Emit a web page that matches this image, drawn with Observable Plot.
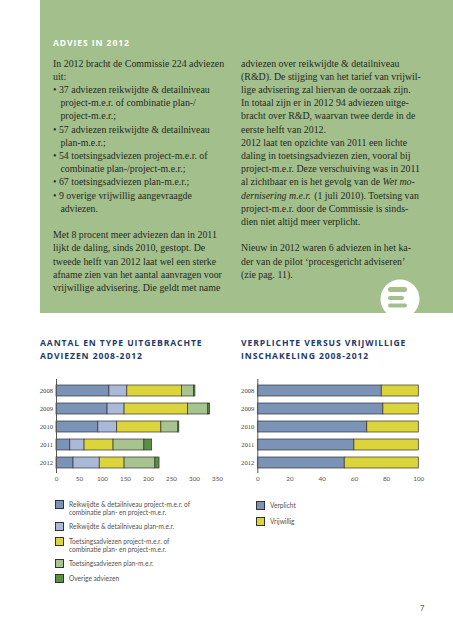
<!DOCTYPE html>
<html><head><meta charset="utf-8">
<script src="https://cdn.jsdelivr.net/npm/d3@7"></script>
<script src="https://cdn.jsdelivr.net/npm/@observablehq/plot@0.6"></script>
<style>
html,body{margin:0;padding:0;background:#fff;}
#page{position:relative;width:453px;height:640px;overflow:hidden;background:#fff;}
#panel{position:absolute;left:40px;top:0;width:413px;height:313px;background:#a3bf8c;}
.head{position:absolute;font-family:"Open Sans",sans-serif;font-weight:700;letter-spacing:0.9px;font-size:8.6px;line-height:13px;white-space:nowrap;}
.body{position:absolute;font-family:"Liberation Serif",serif;font-size:9.9px;line-height:13.2px;color:#252a22;}
.line{position:absolute;left:0;display:flex;white-space:pre;height:13.2px;}
.line span{display:inline-block;}
.chart{position:absolute;}
.legend{position:absolute;display:flex;flex-direction:column;font-family:Lato,sans-serif;font-size:6.6px;line-height:8.4px;color:#505050;}
.item{display:flex;align-items:flex-start;}
.sw{width:7px;height:7px;border:1px solid #333;margin-right:5px;margin-top:0px;flex:none;}
</style></head>
<body><div id="page">
<div id="panel"></div>
<div class="head" style="left:53px;top:37px;color:#fff;">ADVIES IN 2012</div>
<div id="colL" class="body" style="left:53px;top:56.7px;"></div>
<div id="colR" class="body" style="left:241px;top:56.7px;"></div>
<svg style="position:absolute;left:0;top:0" width="453" height="640">
  <circle cx="400" cy="299" r="19.5" fill="#fff"/>
  <rect x="388" y="287" width="19" height="5" rx="2.5" fill="#a3bf8c"/>
  <rect x="388" y="296" width="16" height="4" rx="2" fill="#a3bf8c"/>
  <rect x="388" y="303.5" width="19" height="4" rx="2" fill="#a3bf8c"/>
</svg>
<div class="head" style="left:40px;top:336.5px;color:#1e3b6b;">AANTAL EN TYPE UITGEBRACHTE<br>ADVIEZEN 2008-2012</div>
<div class="head" style="left:241px;top:336.5px;color:#1e3b6b;">VERPLICHTE VERSUS VRIJWILLIGE<br>INSCHAKELING 2008-2012</div>
<div id="chartL" class="chart" style="left:0;top:370px;"></div>
<div id="chartR" class="chart" style="left:226px;top:370px;"></div>
<div id="legL" class="legend" style="left:55px;top:500px;gap:5.6px;"></div>
<div id="legR" class="legend" style="left:256px;top:501px;gap:7.3px;"></div>
<div style="position:absolute;left:420px;top:604px;font-family:Lato,sans-serif;font-size:7.5px;color:#555;">7</div>
</div>
<script>
// ---- text (segments wrapped in *...* are italic) ----
const leftLines = [
  "In 2012 bracht de Commissie 224 adviezen",
  "uit:",
  "\u2022 37 adviezen reikwijdte & detailniveau",
  "   project-m.e.r. of combinatie plan-/",
  "   project-m.e.r.;",
  "\u2022 57 adviezen reikwijdte & detailniveau",
  "   plan-m.e.r.;",
  "\u2022 54 toetsingsadviezen project-m.e.r. of",
  "   combinatie plan-/project-m.e.r.;",
  "\u2022 67 toetsingsadviezen plan-m.e.r.;",
  "\u2022 9 overige vrijwillig aangevraagde",
  "   adviezen.",
  "",
  "Met 8 procent meer adviezen dan in 2011",
  "lijkt de daling, sinds 2010, gestopt. De",
  "tweede helft van 2012 laat wel een sterke",
  "afname zien van het aantal aanvragen voor",
  "vrijwillige advisering. Die geldt met name"
];
const rightLines = [
  "adviezen over reikwijdte & detailniveau",
  "(R&D). De stijging van het tarief van vrijwil-",
  "lige advisering zal hiervan de oorzaak zijn.",
  "In totaal zijn er in 2012 94 adviezen uitge-",
  "bracht over R&D, waarvan twee derde in de",
  "eerste helft van 2012.",
  "2012 laat ten opzichte van 2011 een lichte",
  "daling in toetsingsadviezen zien, vooral bij",
  "project-m.e.r. Deze verschuiving was in 2011",
  "al zichtbaar en is het gevolg van de *Wet mo-*",
  "*dernisering m.e.r.* (1 juli 2010). Toetsing van",
  "project-m.e.r. door de Commissie is sinds-",
  "dien niet altijd meer verplicht.",
  "",
  "Nieuw in 2012 waren 6 adviezen in het ka-",
  "der van de pilot \u2018procesgericht adviseren\u2019",
  "(zie pag. 11)."
];
function writeColumn(el, lines) {
  lines.forEach((line, i) => {
    if (!line) return;
    const d = document.createElement("div");
    d.className = "line";
    d.style.top = (i * 13.2) + "px";
    line.split("*").forEach((seg, k) => {
      if (!seg) return;
      const s = document.createElement("span");
      s.textContent = seg;
      if (k % 2 === 1) { s.style.fontStyle = "italic"; s.style.marginRight = "1px"; }
      d.append(s);
    });
    el.append(d);
  });
}
writeColumn(document.getElementById("colL"), leftLines);
writeColumn(document.getElementById("colR"), rightLines);

// ---- data ----
const years = ["2008", "2009", "2010", "2011", "2012"];
const categories = [
  "Reikwijdte & detailniveau project-m.e.r. of combinatie plan- en project-m.e.r.",
  "Reikwijdte & detailniveau plan-m.e.r.",
  "Toetsingsadviezen project-m.e.r. of combinatie plan- en project-m.e.r.",
  "Toetsingsadviezen plan-m.e.r.",
  "Overige adviezen"
];
const legendLabelsL = [
  "Reikwijdte & detailniveau project-m.e.r. of\ncombinatie plan- en project-m.e.r.",
  "Reikwijdte & detailniveau plan-m.e.r.",
  "Toetsingsadviezen project-m.e.r. of\ncombinatie plan- en project-m.e.r.",
  "Toetsingsadviezen plan-m.e.r.",
  "Overige adviezen"
];
const rdProject    = [115, 111, 91, 30, 37];
const rdPlan       = [39, 37, 41, 31, 57];
const toetsProject = [119, 138, 96, 63, 54];
const toetsPlan    = [26, 44, 37, 67, 67];
const overige      = [3, 4, 2, 17, 9];
const colorsL = ["#7b93b7", "#abb9d9", "#dcd43b", "#a7c390", "#5b8f46"];
const xTicksL = [0, 50, 100, 150, 200, 250, 300, 350];

const types = ["Verplicht", "Vrijwillig"];
const verplicht  = [77, 78, 68, 60, 54];
const vrijwillig = [23, 22, 32, 40, 46];
const colorsR = ["#7b93b7", "#dcd43b"];
const xTicksR = [0, 20, 40, 60, 80, 100];

const seriesL = [rdProject, rdPlan, toetsProject, toetsPlan, overige];
const dataL = [];
years.forEach((y, i) => seriesL.forEach((s, k) => dataL.push({year: y, category: categories[k], value: s[i]})));
const seriesR = [verplicht, vrijwillig];
const dataR = [];
years.forEach((y, i) => seriesR.forEach((s, k) => dataR.push({year: y, type: types[k], value: s[i]})));

const common = {
  height: 121, marginTop: 9, marginBottom: 18,
  style: {background: "transparent", overflow: "visible"}
};
const yScale = {domain: years, paddingInner: 0.41, paddingOuter: 0.2};
const axisFont = {fontFamily: "Lato, sans-serif", fontSize: 6.3, fill: "#555"};
const yFont = {fontFamily: "Liberation Serif, serif", fontSize: 6.6, fill: "#444"};

const chartL = Plot.plot({
  ...common, width: 226, marginLeft: 56, marginRight: 9,
  x: {domain: [0, 350]},
  y: yScale,
  color: {domain: categories, range: colorsL},
  marks: [
    Plot.barX(dataL, {x: "value", y: "year", fill: "category", stroke: "#333", strokeWidth: 0.7}),
    Plot.ruleX([0], {stroke: "#555", strokeWidth: 1}),
    Plot.axisX({ticks: xTicksL, tickSize: 0, tickPadding: 3, label: null, ...axisFont}),
    Plot.axisY({tickSize: 0, tickPadding: 3.5, label: null, ...yFont})
  ]
});
document.getElementById("chartL").append(chartL);

const chartR = Plot.plot({
  ...common, width: 227, marginLeft: 31.3, marginRight: 34.7,
  x: {domain: [0, 100]},
  y: yScale,
  color: {domain: types, range: colorsR},
  marks: [
    Plot.barX(dataR, {x: "value", y: "year", fill: "type", stroke: "#333", strokeWidth: 0.7}),
    Plot.ruleX([0], {stroke: "#555", strokeWidth: 1}),
    Plot.axisX({ticks: xTicksR, tickSize: 0, tickPadding: 3, label: null, ...axisFont}),
    Plot.axisY({tickSize: 0, tickPadding: 3.5, label: null, ...yFont})
  ]
});
document.getElementById("chartR").append(chartR);

// ---- legends ----
function legend(el, labels, colors) {
  labels.forEach((lab, i) => {
    const it = document.createElement("div"); it.className = "item";
    const sw = document.createElement("div"); sw.className = "sw"; sw.style.background = colors[i];
    const tx = document.createElement("div"); tx.style.whiteSpace = "pre"; tx.textContent = lab;
    it.append(sw, tx); el.append(it);
  });
}
legend(document.getElementById("legL"), legendLabelsL, colorsL);
legend(document.getElementById("legR"), types, colorsR);
</script>
</body></html>
